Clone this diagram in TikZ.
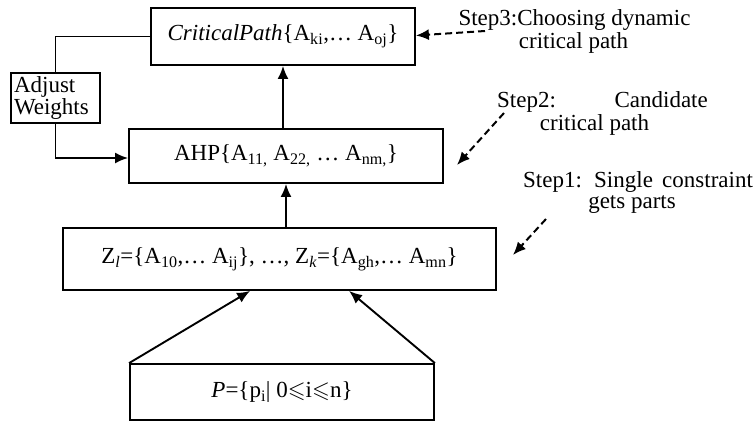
\documentclass[tikz,border=0pt]{standalone}
\usepackage{fontspec}
\usepackage{amssymb}
\setmainfont{Liberation Serif}
\usetikzlibrary{arrows.meta,calc}
\begin{document}
\begin{tikzpicture}[x=1pt,y=-1pt,
  every node/.style={font=\fontsize{23}{21}\selectfont},
  box/.style={draw, line width=1.8pt, inner sep=0pt},
  lbl/.style={inner sep=0pt, anchor=base},
  arr/.style={line width=1.9pt, -{Latex[length=13pt,width=11pt]}},
  plain/.style={line width=1.9pt},
  darr/.style={line width=2pt, dash pattern=on 7pt off 4pt, -{Latex[length=13pt,width=11pt]}}]
\useasboundingbox (0,0) rectangle (756,432);

% boxes
\node[box, minimum width=264pt, minimum height=57pt] (CP) at (283,36.5)
  {\textit{CriticalPath}\{A\textsubscript{ki},\dots\ A\textsubscript{oj}\}};
\node[box, minimum width=89pt, minimum height=50pt, text width=83pt, align=left,
  inner xsep=3pt, font=\fontsize{23}{20}\selectfont] (AW) at (55.5,98)
  {Adjust\\Weights};
\node[box, minimum width=314pt, minimum height=54pt] (AHP) at (286,156)
  {AHP\{A\textsubscript{11,} A\textsubscript{22,} \dots\ A\textsubscript{nm,}\}};
\node[box, minimum width=433pt, minimum height=62pt] (Z) at (279.5,259)
  {Z\textsubscript{\textit{l}}=\{A\textsubscript{10},\dots\ A\textsubscript{ij}\}, \dots, Z\textsubscript{\textit{k}}=\{A\textsubscript{gh},\dots\ A\textsubscript{mn}\}};
\node[box, minimum width=304pt, minimum height=56pt] (P) at (282,392)
  {\textit{P}=\{p\textsubscript{i}| 0$\leqslant$i$\leqslant$n\}};

% solid connectors
\draw[arr] (AHP.north -| CP.south) -- (CP.south);
\draw[arr] (Z.north -| AHP.south) -- (AHP.south);
\draw[plain] (CP.west) -| (AW.north);
\draw[arr] (AW.south) |- ($(AHP.west)+(0,2)$);
\coordinate (zl) at ($(Z.south west)+(188,0)$);
\coordinate (zr) at ($(Z.south west)+(287,0)$);
\draw[arr] (P.north west) -- (zl);
\draw[arr] (P.north east) -- (zr);

% step labels
\node[lbl] (s3a) at (574.5,25) {Step3:Choosing dynamic};
\node[lbl] (s3b) at (573.5,48) {critical path};
\node[lbl, anchor=base west] (s2a) at (497,107) {Step2:};
\node[lbl, anchor=base east] (s2b) at (708,107) {Candidate};
\node[lbl] (s2c) at (594.5,130) {critical path};
\node[lbl, anchor=base west] (s1a) at (523,187) {Step1:};
\node[lbl, anchor=base west] (s1b) at (594,187) {Single};
\node[lbl, anchor=base west] (s1c) at (662,187) {constraint};
\node[lbl] (s1d) at (632,208) {gets parts};

% dashed connectors
\coordinate (d3) at (485,31);
\coordinate (d2) at (504,113);
\coordinate (d2e) at (457,165);
\coordinate (d1) at (546,219);
\coordinate (d1e) at (513,255);
\draw[darr] (d3) -- ($(CP.east)+(0,-1)$);
\draw[darr] (d2) -- (d2e);
\draw[darr] (d1) -- (d1e);
\end{tikzpicture}
\end{document}
